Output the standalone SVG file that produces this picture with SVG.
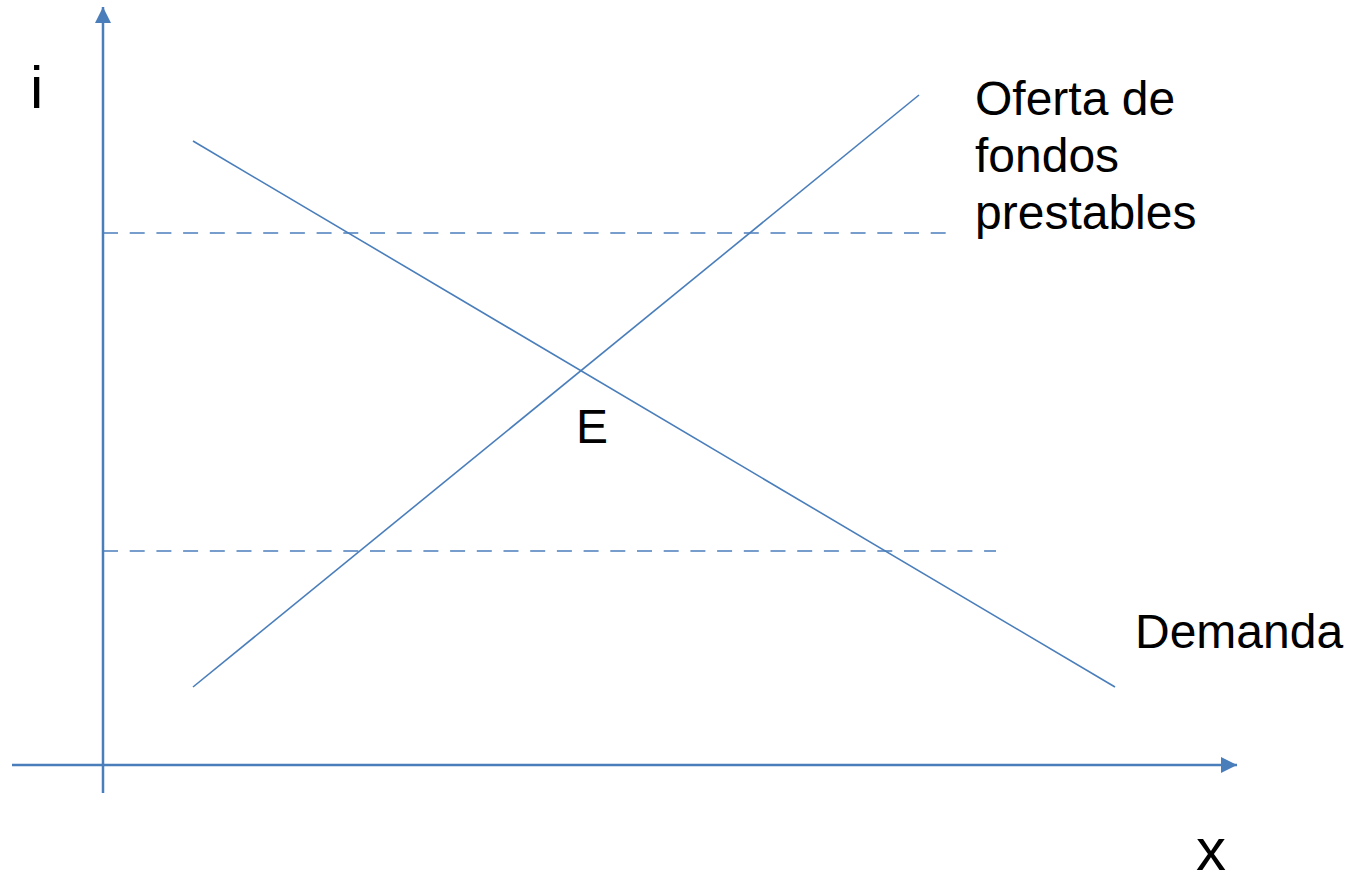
<svg xmlns="http://www.w3.org/2000/svg" width="1348" height="875" viewBox="0 0 1348 875">
<style>
.ax{stroke:#4a7ebb;stroke-width:2.5;fill:none}
.ln{stroke:#4a7ebb;stroke-width:1.6;fill:none}
.ds{stroke:#4a7ebb;stroke-width:1.6;fill:none;stroke-dasharray:15 11.7}
.t{font-family:"Liberation Sans",Arial,sans-serif;fill:#000}
</style>
<defs>
<marker id="ah" viewBox="0 0 10 10" refX="10" refY="5" markerWidth="16" markerHeight="16" markerUnits="userSpaceOnUse" orient="auto">
<path d="M0,0 L10,5 L0,10 Z" fill="#4a7ebb"/>
</marker>
</defs>
<g id="connectors">
<line id="y-axis" class="ax" x1="103" y1="793" x2="103" y2="7" marker-end="url(#ah)"/>
<line id="x-axis" class="ax" x1="12" y1="765" x2="1237" y2="765" marker-end="url(#ah)"/>
<line id="dash-high" class="ds" x1="103" y1="233" x2="950" y2="233"/>
<line id="dash-low" class="ds" x1="103" y1="551" x2="996" y2="551"/>
<line id="supply" class="ln" x1="193" y1="687" x2="919" y2="95"/>
<line id="demand" class="ln" x1="193" y1="141" x2="1115" y2="687"/>
</g>
<g id="label-i"><text class="t" x="30" y="108" font-size="60">i</text></g>
<g id="label-x"><text class="t" x="1196" y="870" font-size="60">x</text></g>
<g id="label-oferta"><text class="t" x="975" y="115" font-size="48">Oferta de</text><text class="t" x="975" y="172" font-size="48">fondos</text><text class="t" x="975" y="229" font-size="48">prestables</text></g>
<g id="label-demanda"><text class="t" x="1135" y="648" font-size="48">Demanda</text></g>
<g id="label-e"><text class="t" x="576" y="443" font-size="48">E</text></g>
</svg>
